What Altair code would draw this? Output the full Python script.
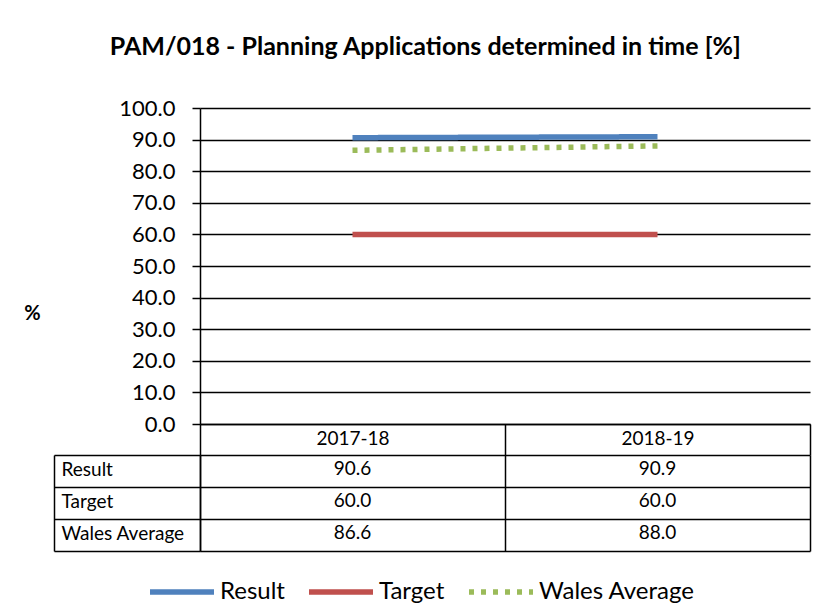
import altair as alt
import pandas as pd

categories = ["2017-18", "2018-19"]
series = ["Result", "Target", "Wales Average"]
result = [90.6, 90.9]
target = [60.0, 60.0]
wales_average = [86.6, 88.0]
y_ticks = [0, 10, 20, 30, 40, 50, 60, 70, 80, 90, 100]
colors = ["#4F81BD", "#C0504D", "#9BBB59"]
dashes = [[1, 0], [1, 0], [5, 7]]

rows = []
for name, vals in zip(series, [result, target, wales_average]):
    for cat, v in zip(categories, vals):
        rows.append({"period": cat, "series": name, "value": v, "label": f"{v:.1f}"})
df = pd.DataFrame(rows)

FONT = "Lato"
band0 = alt.Scale(type="band", paddingInner=0, paddingOuter=0)

lines = alt.Chart(df).mark_line(strokeWidth=5.5, strokeCap="butt").encode(
    x=alt.X("period:N", sort=categories, scale=band0,
            axis=alt.Axis(title=None, orient="bottom", tickBand="extent", tickSize=31,
                          tickColor="black", tickWidth=1.5, labelAngle=0, labelFontSize=19,
                          labelBaseline="middle", labelPadding=-16.5, labelColor="black",
                          labelFont=FONT, domain=True, domainColor="black", domainWidth=1.5,
                          grid=False)),
    y=alt.Y("value:Q", scale=alt.Scale(domain=[0, 100]),
            axis=alt.Axis(values=y_ticks, format=".1f", grid=True, gridColor="black",
                          gridWidth=1.5, gridOpacity=1, tickSize=8, tickColor="black",
                          tickWidth=1.5, labelPadding=17, labelFontSize=22, labelColor="black",
                          labelFont=FONT, domain=True, domainColor="black", domainWidth=1.5,
                          title="%", titleAngle=0, titleX=-168, titleY=205, titleAlign="center",
                          titleBaseline="middle", titleFontSize=20, titleFontWeight="bold",
                          titleColor="black", titleFont=FONT)),
    color=alt.Color("series:N", sort=series, scale=alt.Scale(domain=series, range=colors),
                    legend=alt.Legend(title=None, orient="none", direction="horizontal",
                                      legendX=-53, legendY=449,
                                      symbolType="stroke", symbolSize=4096, symbolStrokeWidth=5.5,
                                      labelFontSize=24, labelFont=FONT, labelColor="black",
                                      labelOffset=3, columnPadding=13)),
    strokeDash=alt.StrokeDash("series:N", sort=series, scale=alt.Scale(domain=series, range=dashes),
                              legend=None),
).properties(width=610, height=316)

base = alt.Chart(df).encode(
    x=alt.X("period:N", sort=categories, scale=band0,
            axis=alt.Axis(title=None, labels=False, ticks=False, domain=False, grid=True,
                          gridColor="black", gridWidth=1.5, gridOpacity=1, tickBand="extent")),
)
table_text = base.mark_text(fontSize=19, font=FONT, color="black", dy=-2).encode(
    y=alt.Y("series:N", sort=series, scale=band0,
            axis=alt.Axis(title=None, tickBand="extent", tickSize=146, tickColor="black",
                          tickWidth=1.5, labelAlign="left", labelPadding=-7, labelFontSize=19,
                          labelOffset=-2,
                          labelFont=FONT, labelColor="black", grid=True, gridColor="black",
                          gridWidth=1.5, gridOpacity=1, domain=True, domainColor="black",
                          domainWidth=1.5)),
    text="label:N",
)
table_border = base.mark_point(opacity=0).encode(
    y=alt.Y("series:N", sort=series, scale=band0,
            axis=alt.Axis(title=None, orient="left", offset=146, labels=False, ticks=False,
                          grid=False, domain=True, domainColor="black", domainWidth=1.5)),
)
table = alt.layer(table_text, table_border).resolve_axis(y="independent").properties(
    width=610, height=96)

chart = alt.vconcat(lines, table, spacing=31, bounds="flush").properties(
    title=alt.Title("PAM/018 - Planning Applications determined in time [%]", fontSize=25,
                    font=FONT, fontWeight="bold", color="black", anchor="middle", offset=37,
                    dx=8),
    padding={"left": 15, "top": 27, "right": 10, "bottom": 5},
).configure_view(stroke=None)

chart.save("out.html", embed_options={"renderer": "svg", "actions": False})
